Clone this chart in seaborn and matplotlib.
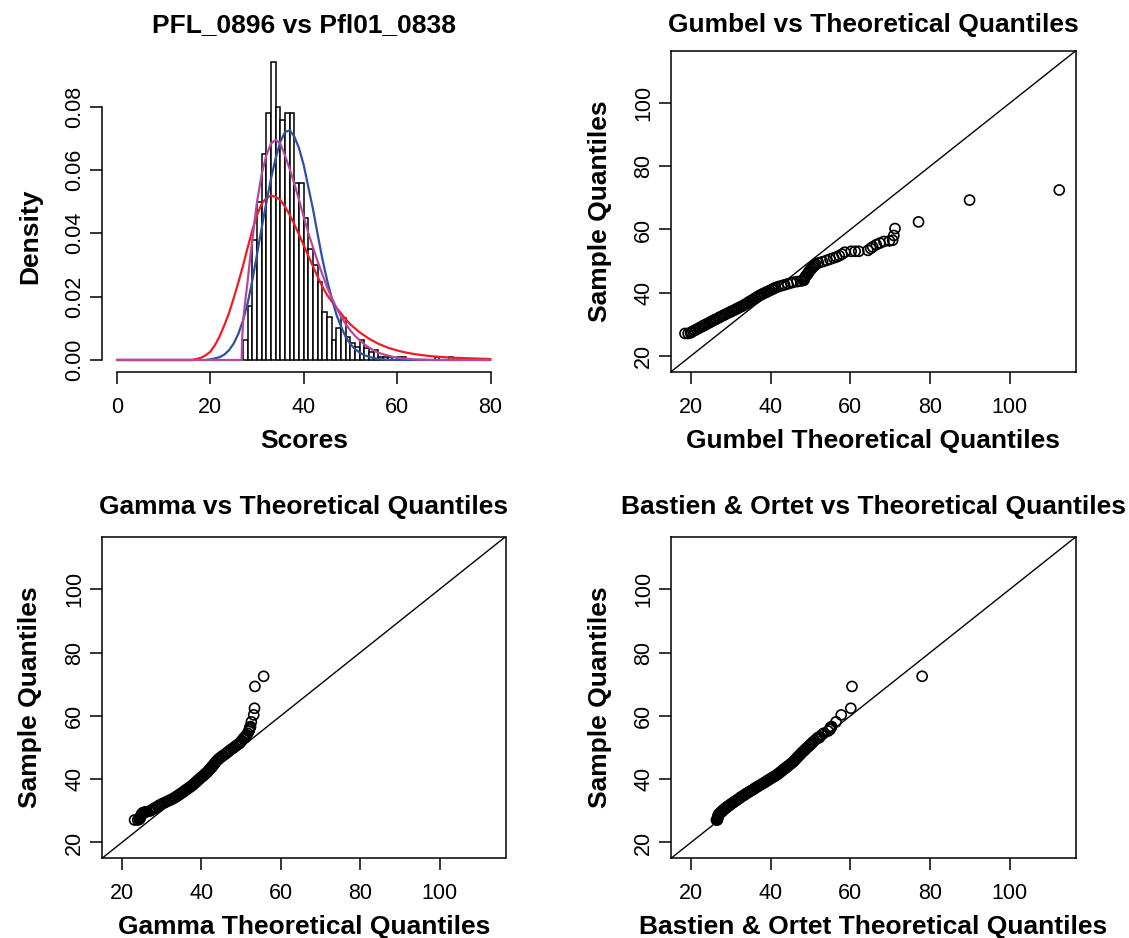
import matplotlib
matplotlib.use("Agg")
import matplotlib.pyplot as plt
import seaborn as sns

# histogram of the scores: density of unit-wide bins, first bin starts at 27
hist_first_bin = 27
hist_density = [
    0.0063, 0.0172, 0.0380, 0.0500, 0.0650, 0.0780, 0.0940, 0.0800, 0.0758, 0.0780,
    0.0780, 0.0560, 0.0560, 0.0447, 0.0350, 0.0300, 0.0247, 0.0150, 0.0137, 0.0063,
    0.0102, 0.0132, 0.0074, 0.0053, 0.0042, 0.0063, 0.0037, 0.0026, 0.0032, 0.0011,
    0.0011, 0.0011, 0.0, 0.0011, 0.0011, 0.0, 0.0, 0.0, 0.0, 0.0,
    0.0, 0.0011, 0.0, 0.0, 0.0011,
]

# fitted density curves (red = Gumbel, blue = Bastien & Ortet, magenta = Gamma)
red_x = [0, 16, 17, 18, 19, 20, 21, 22, 23, 24, 25, 26, 27, 28, 29, 30, 31, 32, 33, 34,
         35, 36, 37, 38, 39, 40, 41, 42, 43, 44, 45, 46, 47, 48, 49, 50, 52, 54, 56, 58,
         60, 62, 64, 66, 68, 70, 72, 74, 76, 80]
red_y = [0, 0, 0.0003, 0.0007, 0.0015, 0.0026, 0.0047, 0.0075, 0.0110, 0.0148,
         0.0195, 0.0245, 0.0298, 0.0355, 0.0410, 0.0458, 0.0493, 0.0512, 0.0519, 0.0515,
         0.0505, 0.0484, 0.0458, 0.0428, 0.0396, 0.0362, 0.0328, 0.0295, 0.0262, 0.0232,
         0.0205, 0.0185, 0.0165, 0.0147, 0.0128, 0.0112, 0.0087, 0.0067, 0.0051, 0.0039,
         0.0030, 0.0023, 0.0018, 0.0014, 0.0011, 0.0009, 0.0007, 0.0006, 0.0005, 0.0003]

blue_x = [0, 19, 20, 21, 22, 23, 24, 25, 26, 27, 28, 29, 30, 31, 32, 33, 34, 35, 36, 37,
          38, 39, 40, 41, 42, 43, 44, 45, 46, 47, 48, 49, 50, 51, 52, 53, 54, 55, 56, 58,
          60, 80]
blue_y = [0, 0, 0.0002, 0.0005, 0.0009, 0.0017, 0.0031, 0.0052, 0.0083, 0.0125,
          0.0180, 0.0252, 0.0334, 0.0418, 0.0498, 0.0574, 0.0638, 0.0690, 0.0720, 0.0725,
          0.0705, 0.0668, 0.0615, 0.0545, 0.0475, 0.0395, 0.0318, 0.0252, 0.0195, 0.0143,
          0.0105, 0.0072, 0.0050, 0.0034, 0.0023, 0.0015, 0.0010, 0.0006, 0.0003, 0.0001,
          0, 0]

mag_x = [0, 26.7, 26.8, 27.0, 27.5, 28.0, 28.5, 29.0, 29.5, 30, 31, 32, 33, 34, 35, 36,
         37, 38, 39, 40, 41, 42, 43, 44, 45, 46, 47, 48, 49, 50, 51, 52, 53, 54, 55, 56,
         57, 58, 59, 60, 62, 64, 66, 68, 80]
mag_y = [0, 0, 0.006, 0.012, 0.019, 0.025, 0.032, 0.038, 0.0443, 0.050,
         0.0587, 0.0647, 0.0684, 0.0695, 0.0683, 0.0645, 0.0603, 0.0556, 0.0505, 0.0452,
         0.0400, 0.0355, 0.0310, 0.0270, 0.0230, 0.0196, 0.0165, 0.0137, 0.0113, 0.0093,
         0.0076, 0.0062, 0.0049, 0.0039, 0.0030, 0.0023, 0.0018, 0.0014, 0.0010, 0.0007,
         0.0004, 0.0002, 0.0001, 0, 0]

# sorted sample (thinned) and matching theoretical quantiles of each fit
sample_q = [
    27.1, 27.1, 27.3, 27.5, 27.8, 28.1, 28.4, 28.7, 29.0, 29.3,
    29.5, 29.6, 29.7, 29.9, 30.2, 30.5, 30.8, 31.1, 31.4, 31.7,
    32.0, 32.3, 32.6, 32.9, 33.2, 33.5, 33.8, 34.1, 34.4, 34.7,
    35.0, 35.3, 35.6, 35.9, 36.2, 36.5, 36.8, 37.1, 37.4, 37.7,
    38.0, 38.3, 38.6, 38.9, 39.2, 39.5, 39.8, 40.1, 40.4, 40.7,
    41.0, 41.3, 41.6, 41.9, 42.2, 42.5, 42.8, 43.1, 43.3, 43.5,
    43.7, 43.9, 44.2, 44.6, 45.0, 45.4, 45.8, 46.2, 46.6, 47.0,
    47.4, 47.8, 48.2, 48.6, 49.0, 49.4, 49.8, 50.2, 50.6, 51.0,
    51.3, 51.7, 52.2, 52.8, 53.1, 53.1, 53.1, 53.4, 54.0, 54.5,
    55.2, 55.7, 56.2, 56.4, 56.6, 58.1, 60.3, 62.4, 69.3, 72.5,
]
gumbel_q = [
    18.5, 19.3, 19.9, 20.1, 20.5, 21.0, 21.4, 21.9, 22.3, 22.8,
    23.1, 23.2, 23.4, 23.7, 24.1, 24.6, 25.0, 25.5, 25.9, 26.4,
    26.9, 27.3, 27.8, 28.3, 28.7, 29.2, 29.7, 30.2, 30.7, 31.2,
    31.6, 32.1, 32.6, 33.1, 33.5, 33.9, 34.3, 34.6, 35.0, 35.4,
    35.8, 36.2, 36.6, 36.9, 37.4, 37.8, 38.3, 38.8, 39.3, 39.8,
    40.3, 40.8, 41.2, 41.9, 42.7, 43.5, 44.3, 45.1, 45.6, 46.6,
    47.6, 48.3, 48.4, 48.5, 48.7, 48.9, 49.2, 49.4, 49.6, 49.8,
    50.1, 50.4, 50.7, 51.0, 51.3, 52.0, 53.0, 54.0, 54.9, 55.8,
    56.5, 57.2, 57.9, 58.6, 60.2, 61.2, 62.1, 64.4, 65.1, 65.6,
    66.5, 67.4, 68.4, 69.8, 70.6, 70.9, 71.2, 77.1, 89.9, 112.4,
]
gamma_q = [
    23.2, 24.0, 24.4, 24.5, 24.6, 24.7, 24.8, 24.9, 25.0, 25.2,
    25.5, 25.9, 26.3, 27.0, 27.4, 27.8, 28.2, 28.6, 29.0, 29.4,
    29.8, 30.3, 30.8, 31.3, 31.8, 32.3, 32.8, 33.2, 33.6, 34.0,
    34.3, 34.7, 35.0, 35.4, 35.7, 36.0, 36.4, 36.7, 37.0, 37.4,
    37.7, 38.0, 38.2, 38.5, 38.8, 39.0, 39.3, 39.6, 39.8, 40.1,
    40.4, 40.7, 40.9, 41.2, 41.5, 41.7, 41.9, 42.1, 42.3, 42.4,
    42.5, 42.7, 42.9, 43.1, 43.4, 43.6, 43.9, 44.2, 44.6, 45.0,
    45.4, 45.9, 46.3, 46.7, 47.1, 47.5, 48.0, 48.4, 48.8, 49.3,
    49.6, 49.9, 50.2, 50.6, 50.8, 50.9, 51.0, 51.1, 51.4, 51.7,
    52.0, 52.1, 52.2, 52.3, 52.4, 52.6, 53.2, 53.4, 53.5, 55.7,
]
bastien_q = [
    26.4, 26.6, 26.6, 26.7, 26.7, 26.8, 26.8, 26.9, 27.0, 27.3,
    27.5, 27.6, 27.7, 27.9, 28.0, 28.3, 28.6, 28.9, 29.2, 29.6,
    29.9, 30.2, 30.6, 30.9, 31.3, 31.6, 32.0, 32.3, 32.6, 33.0,
    33.4, 33.7, 34.1, 34.5, 34.9, 35.3, 35.7, 36.0, 36.4, 36.8,
    37.2, 37.6, 38.0, 38.4, 38.8, 39.1, 39.5, 39.9, 40.3, 40.7,
    41.1, 41.5, 41.8, 42.1, 42.4, 42.7, 43.0, 43.3, 43.5, 43.7,
    43.9, 44.1, 44.4, 44.8, 45.2, 45.6, 45.9, 46.2, 46.5, 46.8,
    47.1, 47.4, 47.7, 48.0, 48.4, 48.7, 49.0, 49.4, 49.7, 50.0,
    50.3, 50.6, 51.0, 51.6, 51.8, 52.0, 52.2, 52.3, 52.8, 53.3,
    54.4, 54.9, 55.0, 55.1, 55.3, 56.4, 57.7, 60.1, 60.4, 78.0,
]

W, H = 1129, 938

sns.set_theme(style="ticks")
plt.rcParams.update({
    "font.family": ["Liberation Sans", "DejaVu Sans"],
    "axes.linewidth": 1.1,
    "axes.edgecolor": "black",
    "text.color": "black",
    "axes.labelcolor": "black",
    "xtick.color": "black",
    "ytick.color": "black",
})

fig = plt.figure(figsize=(W / 100, H / 100), dpi=100)


def add_panel(x0, y0, x1, y1):
    return fig.add_axes([x0 / W, 1 - y1 / H, (x1 - x0) / W, (y1 - y0) / H])


def style_panel(ax, box, title, xlab, ylab, title_base, xlab_base, ylab_base, ylab_mid=None):
    x0, y0, x1, y1 = box
    ax.tick_params(direction="out", length=8.5, width=1.1, labelsize=15.5)
    ax.tick_params(axis="x", pad=9.5)
    ax.tick_params(axis="y", pad=3.5)
    plt.setp(ax.get_yticklabels(), rotation=90, va="center")
    ax.set_title(title, fontsize=19, fontweight="bold", pad=0,
                 y=1 + (y0 - title_base) / (y1 - y0))
    ax.set_xlabel(xlab, fontsize=19, fontweight="bold")
    ax.set_ylabel(ylab, fontsize=19, fontweight="bold")
    ax.xaxis.label.set_va("baseline")
    ax.yaxis.label.set_va("baseline")
    ax.xaxis.set_label_coords((x0 + x1) / 2 / W, 1 - xlab_base / H, transform=fig.transFigure)
    mid = (y0 + y1) / 2 if ylab_mid is None else ylab_mid
    ax.yaxis.set_label_coords(ylab_base / W, 1 - mid / H, transform=fig.transFigure)


# panel 1: histogram with fitted densities
box1 = (102, 50.6, 505.5, 371.7)
ax1 = add_panel(*box1)
hist_mid = [hist_first_bin + i + 0.5 for i in range(len(hist_density))]
sns.histplot(x=hist_mid, weights=hist_density, binwidth=1,
             binrange=(hist_first_bin, hist_first_bin + len(hist_density)),
             stat="count", color="white", edgecolor="black", linewidth=1.1,
             alpha=1, ax=ax1)
sns.lineplot(x=red_x, y=red_y, color="#ee1d24", linewidth=1.6, ax=ax1)
sns.lineplot(x=blue_x, y=blue_y, color="#2f4fa2", linewidth=1.6, ax=ax1)
sns.lineplot(x=mag_x, y=mag_y, color="#b8489f", linewidth=1.6, ax=ax1)
ax1.set_xlim(-3.2, 83.2)
ax1.set_ylim(-0.0037, 0.0977)
ax1.set_xticks([0, 20, 40, 60, 80])
ax1.set_yticks([0.00, 0.02, 0.04, 0.06, 0.08])
ax1.set_yticklabels(["0.00", "0.02", "0.04", "0.06", "0.08"])
for side in ["top", "right"]:
    ax1.spines[side].set_visible(False)
ax1.spines["bottom"].set_bounds(0, 80)
ax1.spines["left"].set_bounds(0, 0.08)
style_panel(ax1, box1, "PFL_0896 vs Pfl01_0838", "Scores", "Density",
            32, 448, 37, ylab_mid=236)

# QQ panels
qq_lim = (15.0, 116.6)
qq_ticks = [20, 40, 60, 80, 100]
qq_panels = [
    ((671, 50.6, 1076, 371.7), gumbel_q, "Gumbel vs Theoretical Quantiles",
     "Gumbel Theoretical Quantiles", 32, 448, 607),
    ((102, 536.7, 505.5, 858.3), gamma_q, "Gamma vs Theoretical Quantiles",
     "Gamma Theoretical Quantiles", 513.7, 933.5, 37),
    ((671, 536.7, 1076, 858.3), bastien_q, "Bastien & Ortet vs Theoretical Quantiles",
     "Bastien & Ortet Theoretical Quantiles", 513.7, 933.5, 607),
]
for box, theo, title, xlab, t_base, x_base, y_base in qq_panels:
    assert len(theo) == len(sample_q)
    ax = add_panel(*box)
    sns.scatterplot(x=theo, y=sample_q, ax=ax, s=52, marker="o",
                    facecolor="none", edgecolor="black", linewidth=1.2, zorder=3)
    ax.axline((0, 0), slope=1, color="black", linewidth=1.0)
    ax.set_xlim(qq_lim)
    ax.set_ylim(qq_lim)
    ax.set_xticks(qq_ticks)
    ax.set_yticks(qq_ticks)
    style_panel(ax, box, title, xlab, "Sample Quantiles", t_base, x_base, y_base)

fig.savefig("out.png", dpi=100, facecolor="white")
